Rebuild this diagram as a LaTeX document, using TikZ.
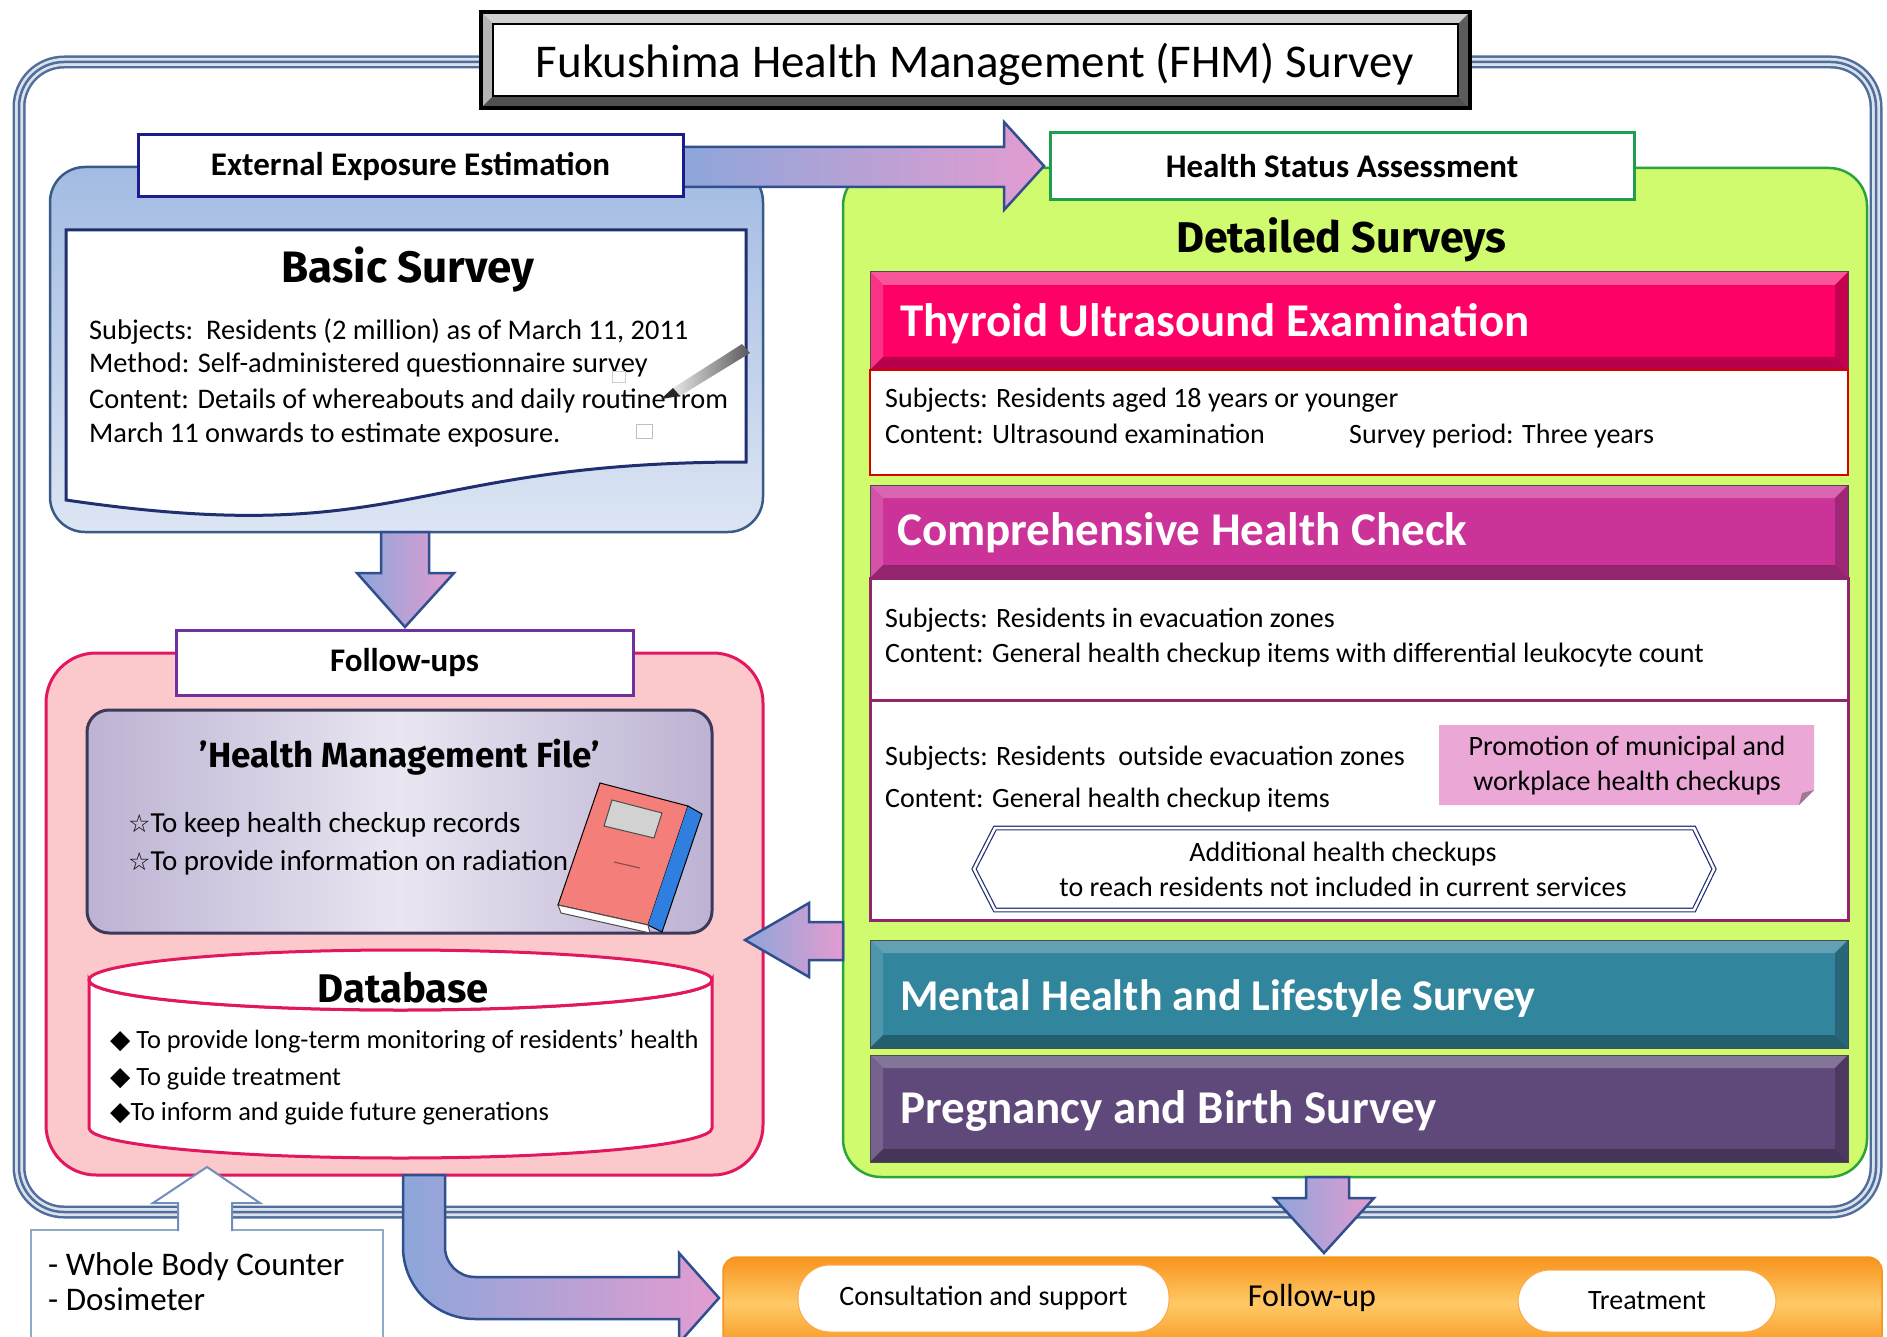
\documentclass[tikz,border=0pt]{standalone}
\usepackage{fontspec}
\setmainfont{Carlito}
\newfontfamily\popfont{Fira Sans}
\newfontfamily\symfont{DejaVu Sans}
\usetikzlibrary{calc}
\definecolor{framec}{HTML}{4F6E9C}
\definecolor{navy}{HTML}{1F2F6F}
\definecolor{extb}{HTML}{1C1C8C}
\definecolor{bluetop}{HTML}{A3BBE3}
\definecolor{bluebot}{HTML}{DCE5F3}
\definecolor{blueedge}{HTML}{3A5B85}
\definecolor{arrL}{HTML}{8DA6DA}
\definecolor{arrR}{HTML}{E39CD0}
\definecolor{arrEdge}{HTML}{2F4F8F}
\definecolor{fupurple}{HTML}{7030A0}
\definecolor{pinkfill}{HTML}{FBC8CB}
\definecolor{crimson}{HTML}{E2175E}
\definecolor{hmfA}{HTML}{BDB2D3}
\definecolor{hmfB}{HTML}{E9E6F1}
\definecolor{hmfEdge}{HTML}{3C3A5A}
\definecolor{lime}{HTML}{D0FB6E}
\definecolor{limeEdge}{HTML}{2DA33C}
\definecolor{hsaEdge}{HTML}{1E9E4E}
\definecolor{thyr}{HTML}{FF0066}
\definecolor{thyrL}{HTML}{F9559A}
\definecolor{thyrD}{HTML}{B8004C}
\definecolor{comp}{HTML}{CC3399}
\definecolor{compL}{HTML}{D966B0}
\definecolor{compD}{HTML}{93246E}
\definecolor{ment}{HTML}{31859C}
\definecolor{mentL}{HTML}{62A1B3}
\definecolor{mentD}{HTML}{245F70}
\definecolor{preg}{HTML}{5F497A}
\definecolor{pregL}{HTML}{83749A}
\definecolor{pregD}{HTML}{463559}
\definecolor{titM}{HTML}{8C8C8C}
\definecolor{titL}{HTML}{D0D0D0}
\definecolor{titD}{HTML}{505050}
\definecolor{notepink}{HTML}{EBA8D6}
\definecolor{orD}{HTML}{F7941E}
\definecolor{orL}{HTML}{FFC966}
\definecolor{hollow}{HTML}{6F8FBA}
\definecolor{wbEdge}{HTML}{8EA9C8}
\definecolor{salmon}{HTML}{F47F7A}
\definecolor{spine}{HTML}{2F7FE0}
\newcommand\bevbar[7]{%
  \fill[#5] (#1,#2) rectangle (#3,#4);
  \fill[#6] (#1,#2) -- (#3,#2) -- ({#3-13},{#2+13}) -- ({#1+13},{#2+13}) -- cycle;
  \fill[#6!60!#5] (#1,#2) -- ({#1+13},{#2+13}) -- ({#1+13},{#4-13}) -- (#1,#4) -- cycle;
  \fill[#7] (#1,#4) -- ({#1+13},{#4-13}) -- ({#3-13},{#4-13}) -- (#3,#4) -- cycle;
  \fill[#7!80!#5] (#3,#2) -- ({#3-13},{#2+13}) -- ({#3-13},{#4-13}) -- (#3,#4) -- cycle;
  \draw[gray!60!black, line width=1] (#1,#2) rectangle (#3,#4);
}
\begin{document}
\begin{tikzpicture}[x=1pt,y=-1pt,
  every node/.style={inner sep=0pt},
  txt/.style={font=\fontsize{#1}{#1}\selectfont, anchor=base west},
  txt/.default=28,
  lbl/.style={draw, fill=white, line width=3, font=\bfseries\fontsize{33}{40}\selectfont},
  bartxt/.style={font=\bfseries\fontsize{#1}{#1}\selectfont, text=white, anchor=base west},
  bartxt/.default=47,
  pop/.style={font=\popfont\bfseries\fontsize{#1}{#1}\selectfont},
  bigarrow/.style={left color=arrL, right color=arrR, draw=arrEdge, line width=2.5},
  pill/.style={draw=orange!70, fill=white, rounded corners=32, line width=1, font=\fontsize{28}{34}\selectfont}
]
\useasboundingbox (0,0) rectangle (1887,1337);
\clip (0,0) rectangle (1887,1337);
\fill[white] (0,0) rectangle (1887,1337);

% outer frame
\draw[framec, line width=13, rounded corners=45] (19,62) rectangle (1876,1212);
\draw[white!80!framec, line width=8, rounded corners=45] (19,62) rectangle (1876,1212);
\draw[framec, line width=2.5, rounded corners=45] (19,62) rectangle (1876,1212);

% title
\bevbar{481}{12}{1470}{108}{titM}{titL}{titD}
\draw[black, line width=2, fill=white] (493,24) rectangle (1458,96);
\draw[black, line width=3.5] (481,12) rectangle (1470,108);
\node[font=\fontsize{47}{56}\selectfont, anchor=base] (title) at (975,78) {Fukushima Health Management (FHM) Survey};

% external exposure panel
\shadedraw[top color=bluetop, bottom color=bluebot, draw=blueedge, line width=2.5, rounded corners=35] (50,167) rectangle (763,532);
\draw[navy, line width=3, fill=white] (66,230) -- (746,230) -- (746,462) .. controls (406,462) and (406,550) .. (66,500) -- cycle;
\node[pop=44, anchor=base] (basic) at (408,283) {Basic Survey};
\node[txt=28.4] (bs1) at (89,340) {Subjects:\ \ Residents (2 million) as of March 11, 2011};
\node[txt=28.4] (bs2) at (89,373) {Method: Self-administered questionnaire survey};
\node[txt=28.4] (bs3) at (89,408) {Content: Details of whereabouts and daily routine from};
\node[txt=28.4] (bs4) at (89,442) {March 11 onwards to estimate exposure.};
% pen and check boxes
\shade[left color=gray!20, right color=gray!70!black] (742,344) -- (750,353) -- (680,396) -- (673,388) -- cycle;
\fill[gray!30!black] (673,388) -- (680,396) -- (661,399) -- cycle;
\draw[gray!50, line width=1] (636,424) rectangle (652,438);
\draw[gray!40, line width=1] (612,372) rectangle (625,383);

% green panel
\draw[fill=lime, draw=limeEdge, line width=2.5, rounded corners=38] (843,168) rectangle (1867,1177);

% horizontal arrow
\shadedraw[bigarrow] (683,147) -- (1004,147) -- (1004,122) -- (1044,166) -- (1004,210) -- (1004,187) -- (683,187) -- cycle;
\node[lbl, draw=extb, minimum width=545, minimum height=62] (ext) at (410.5,166) {External Exposure Estimation};
\node[lbl, draw=hsaEdge, minimum width=584, minimum height=67] (hsa) at (1342,166.5) {Health Status Assessment};
\node[pop=43, anchor=base] (detailed) at (1341,253) {Detailed Surveys};

% thyroid
\bevbar{870}{272}{1848}{370}{thyr}{thyrL}{thyrD}
\node[bartxt] (thy) at (900,337) {Thyroid Ultrasound Examination};
\draw[fill=white, draw=red!85!black, line width=2] (870,370) rectangle (1848,475);
\node[txt] (t1) at (885,407) {Subjects: Residents aged 18 years or younger};
\node[txt] (t2) at (885,443) {Content: Ultrasound examination};
\node[txt] (t3) at (1349,443) {Survey period: Three years};

% comprehensive
\bevbar{870}{485}{1848}{578}{comp}{compL}{compD}
\node[bartxt] (chc) at (897,545) {Comprehensive Health Check};
\draw[fill=white, draw=compD, line width=3] (870,578) rectangle (1848,700);
\draw[fill=white, draw=compD, line width=3] (870,700) rectangle (1848,920);
\node[txt] (c1) at (885,627) {Subjects: Residents in evacuation zones};
\node[txt] (c2) at (885,662) {Content: General health checkup items with differential leukocyte count};
\node[txt] (c3) at (885,765) {Subjects: Residents\ \ outside evacuation zones};
\node[txt] (c4) at (885,807) {Content: General health checkup items};
\fill[notepink] (1439,725) -- (1814,725) -- (1814,790) -- (1799,805) -- (1439,805) -- cycle;
\fill[notepink!70!black] (1814,790) -- (1799,805) -- (1802,793) -- cycle;
\node[font=\fontsize{28}{35}\selectfont, align=center] (note) at (1627,766) {Promotion of municipal and\\workplace health checkups};
\draw[navy, double=white, line width=1.2, double distance=2.5, fill=white] (995,828) -- (1694,828) -- (1714,869) -- (1694,910) -- (995,910) -- (974,869) -- cycle;
\node[font=\fontsize{28}{35}\selectfont, align=center] (addl) at (1343,869) {Additional health checkups\\to reach residents not included in current services};

% mental and pregnancy
\bevbar{870}{940}{1848}{1048}{ment}{mentL}{mentD}
\node[bartxt=44] (mental) at (900,1010) {Mental Health and Lifestyle Survey};
\bevbar{870}{1055}{1848}{1162}{preg}{pregL}{pregD}
\node[bartxt] (preg) at (900,1123) {Pregnancy and Birth Survey};

% follow-ups panel
\draw[fill=pinkfill, draw=crimson, line width=3, rounded corners=50] (46,653) rectangle (763,1175);
\node[lbl, draw=fupurple, minimum width=457, minimum height=65] (fu) at (404.5,662.5) {Follow-ups};
\shadedraw[bigarrow] (381,532) -- (429,532) -- (429,573) -- (454,573) -- (405,627) -- (357,573) -- (381,573) -- cycle;

% health management file
\shadedraw[left color=hmfA, right color=hmfA, middle color=hmfB, draw=hmfEdge, line width=3, rounded corners=22] (87,710) rectangle (712,933);
\node[pop=35, anchor=base] (hmf) at (400,767) {’Health Management File’};
\node[txt=29] (h1) at (128,832) {{\symfont\fontsize{25}{30}\selectfont ☆}To keep health checkup records};
\node[txt=29] (h2) at (128,870) {{\symfont\fontsize{25}{30}\selectfont ☆}To provide information on radiation};
% book
\fill[salmon] (600,783) -- (688,806) -- (648,925) -- (558,905) -- cycle;
\draw[black, line width=1] (600,783) -- (688,806) -- (648,925) -- (558,905) -- cycle;
\fill[spine] (688,806) -- (702,814) -- (662,932) -- (648,925) -- cycle;
\draw[black, line width=1] (688,806) -- (702,814) -- (662,932) -- (648,925);
\fill[white] (558,905) -- (648,925) -- (650,933) -- (561,913) -- cycle;
\draw[gray!60!black, line width=1] (558,905) -- (648,925) -- (650,933) -- (561,913) -- cycle;
\fill[gray!35] (612,800) -- (662,813) -- (654,838) -- (604,826) -- cycle;
\draw[gray!60!black, line width=1] (612,800) -- (662,813) -- (654,838) -- (604,826) -- cycle;
\draw[salmon!60!black, line width=1.2] (614,862) -- (640,868);

% database
\draw[fill=white, draw=crimson, line width=3] (89,980) -- (89,1128) arc[start angle=180, end angle=0, x radius=311.5, y radius=30] -- (712,980) arc[start angle=0, end angle=180, x radius=311.5, y radius=30] -- cycle;
\draw[crimson, fill=white, line width=3] (400.5,980) ellipse[x radius=311.5, y radius=30];
\node[pop=40, anchor=base] (db) at (403,1002) {Database};
\node[txt=26.4] (d1) at (110,1048) {{\symfont ◆}\ To provide long-term monitoring of residents' health};
\node[txt=26.4] (d2) at (110,1085) {{\symfont ◆}\ To guide treatment};
\node[txt=26.4] (d3) at (110,1120) {{\symfont ◆}To inform and guide future generations};

% left arrow
\shadedraw[bigarrow] (843,922) -- (809,922) -- (809,903) -- (745,940) -- (809,977) -- (809,960) -- (843,960) -- cycle;

% down arrow to follow-up bar
\shadedraw[bigarrow] (1306,1177) -- (1349,1177) -- (1349,1198) -- (1374,1198) -- (1324,1253) -- (1274,1198) -- (1306,1198) -- cycle;

% orange bar
\shadedraw[top color=orD, bottom color=orD, middle color=orL, draw=orD, line width=1.5, rounded corners=14] (723,1257) rectangle (1882,1350);
\node[pill, minimum width=371, minimum height=67] (cons) at (983.5,1298.5) {Consultation and support};
\node[font=\fontsize{32}{38}\selectfont] (fup) at (1312,1298) {Follow-up};
\node[pill, minimum width=258, minimum height=62] (treat) at (1647,1301) {Treatment};

% whole body counter
\draw[fill=white, draw=wbEdge, line width=1.5] (31,1230) rectangle (383,1350);
\node[txt=33] (wb1) at (48,1275) {- Whole Body Counter};
\node[txt=33] (wb2) at (48,1310) {- Dosimeter};
\fill[white] (178,1233) -- (178,1203) -- (153,1203) -- (207,1167) -- (260,1203) -- (232,1203) -- (232,1233) -- cycle;
\draw[hollow, line width=2, line join=miter] (178,1231) -- (178,1203) -- (153,1203) -- (207,1167) -- (260,1203) -- (232,1203) -- (232,1231);

% bent arrow
\shadedraw[bigarrow] (403,1175) -- (403,1247) arc[start angle=180, end angle=90, radius=72] -- (679,1319) -- (679,1343) -- (719,1298) -- (679,1253) -- (679,1277) -- (475,1277) arc[start angle=90, end angle=180, radius=30] -- (445,1175) -- cycle;
\end{tikzpicture}
\end{document}
